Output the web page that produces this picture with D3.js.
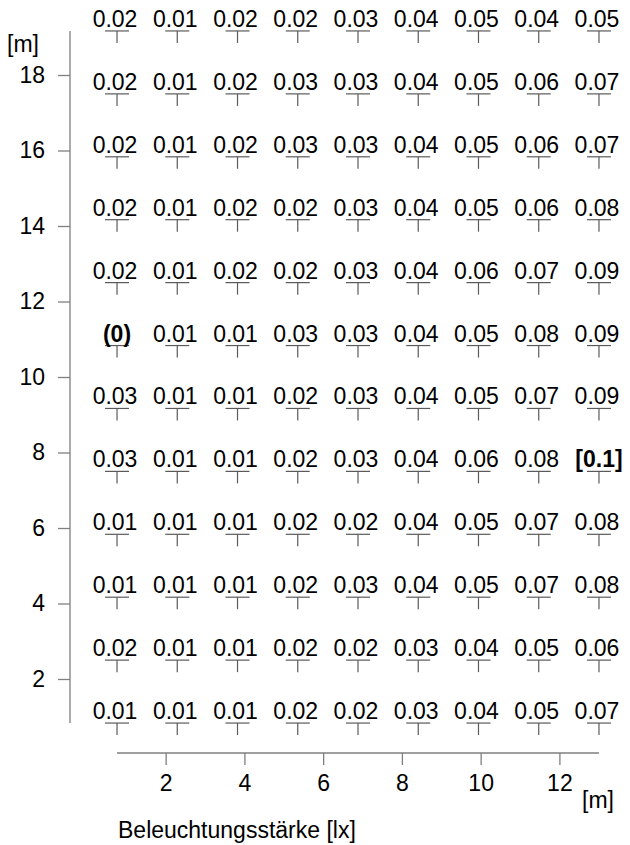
<!DOCTYPE html>
<html><head><meta charset="utf-8">
<script src="https://cdn.jsdelivr.net/npm/d3@7/dist/d3.min.js"></script>
<style>
html,body{margin:0;padding:0;background:#fff;}
svg{display:block;font-family:"Liberation Sans",Arial,Helvetica,sans-serif;}
</style></head>
<body>
<svg id="chart" width="630" height="845"></svg>
<script>
// Grid point coordinates [m]
const colX = [0.765, 2.295, 3.825, 5.355, 6.885, 8.415, 9.945, 11.475, 13.005];
const rowY = [19.167, 17.5, 15.833, 14.167, 12.5, 10.833, 9.167, 7.5, 5.833, 4.167, 2.5, 0.833];
// Illuminance values [lx], rows from top to bottom
const row01 = [0.02, 0.01, 0.02, 0.02, 0.03, 0.04, 0.05, 0.04, 0.05];
const row02 = [0.02, 0.01, 0.02, 0.03, 0.03, 0.04, 0.05, 0.06, 0.07];
const row03 = [0.02, 0.01, 0.02, 0.03, 0.03, 0.04, 0.05, 0.06, 0.07];
const row04 = [0.02, 0.01, 0.02, 0.02, 0.03, 0.04, 0.05, 0.06, 0.08];
const row05 = [0.02, 0.01, 0.02, 0.02, 0.03, 0.04, 0.06, 0.07, 0.09];
const row06 = [0.00, 0.01, 0.01, 0.03, 0.03, 0.04, 0.05, 0.08, 0.09];
const row07 = [0.03, 0.01, 0.01, 0.02, 0.03, 0.04, 0.05, 0.07, 0.09];
const row08 = [0.03, 0.01, 0.01, 0.02, 0.03, 0.04, 0.06, 0.08, 0.10];
const row09 = [0.01, 0.01, 0.01, 0.02, 0.02, 0.04, 0.05, 0.07, 0.08];
const row10 = [0.01, 0.01, 0.01, 0.02, 0.03, 0.04, 0.05, 0.07, 0.08];
const row11 = [0.02, 0.01, 0.01, 0.02, 0.02, 0.03, 0.04, 0.05, 0.06];
const row12 = [0.01, 0.01, 0.01, 0.02, 0.02, 0.03, 0.04, 0.05, 0.07];
const rows = [row01,row02,row03,row04,row05,row06,row07,row08,row09,row10,row11,row12];
const xTicks = [2, 4, 6, 8, 10, 12];
const yTicks = [2, 4, 6, 8, 10, 12, 14, 16, 18];
const xTitle = "Beleuchtungsstärke [lx]";
const unitLabel = "[m]";

const svg = d3.select("#chart");
const x = d3.scaleLinear().domain([0, 13.77]).range([86.9, 629.1]);
const y = d3.scaleLinear().domain([0, 20]).range([754.5, -0.5]);

const axisColor = "#7f7f7f";
const markColor = "#5a5a5a";
const FONT = "Liberation Sans, Arial, sans-serif";

// points
const pts = [];
rows.forEach((r, i) => r.forEach((v, j) => pts.push({x: colX[j], y: rowY[i], v})));
const vmin = d3.min(pts, d => d.v), vmax = d3.max(pts, d => d.v);
const minPt = pts.find(d => d.v === vmin), maxPt = pts.find(d => d.v === vmax);
const fmt = d3.format(".2f");

// y axis
const yAxisX = 70;
svg.append("line").attr("x1", yAxisX).attr("x2", yAxisX)
  .attr("y1", y(d3.max(rowY))).attr("y2", y(d3.min(rowY)))
  .attr("stroke", axisColor).attr("stroke-width", 1.3);
const ya = svg.append("g").attr("transform", `translate(${yAxisX},0)`)
  .call(d3.axisLeft(y).tickValues(yTicks).tickSize(12).tickPadding(13).tickSizeOuter(0));
ya.select(".domain").remove();
ya.selectAll(".tick line").attr("stroke", axisColor).attr("stroke-width", 1.3);
ya.selectAll(".tick text").attr("font-size", 23).attr("fill", "#000").attr("font-family", FONT);

// x axis
const xAxisY = 753;
svg.append("line").attr("y1", xAxisY).attr("y2", xAxisY)
  .attr("x1", x(d3.min(colX))).attr("x2", x(d3.max(colX)))
  .attr("stroke", axisColor).attr("stroke-width", 1.3);
const xa = svg.append("g").attr("transform", `translate(0,${xAxisY})`)
  .call(d3.axisBottom(x).tickValues(xTicks).tickSize(12).tickPadding(10).tickSizeOuter(0));
xa.select(".domain").remove();
xa.selectAll(".tick line").attr("stroke", axisColor).attr("stroke-width", 1.3);
xa.selectAll(".tick text").attr("font-size", 23).attr("fill", "#000").attr("font-family", FONT);

// units & title
svg.append("text").attr("x", 7).attr("y", 52).attr("font-size", 23).text(unitLabel);
svg.append("text").attr("x", 582).attr("y", 808).attr("font-size", 23).text(unitLabel);
svg.append("text").attr("x", 118).attr("y", 838).attr("font-size", 23).text(xTitle);

// markers
const g = svg.append("g");
g.selectAll("line.h").data(pts).join("line").attr("class", "h")
  .attr("x1", d => x(d.x) - 12).attr("x2", d => x(d.x) + 12)
  .attr("y1", d => y(d.y)).attr("y2", d => y(d.y))
  .attr("stroke", markColor).attr("stroke-width", 1.2);
g.selectAll("line.v").data(pts).join("line").attr("class", "v")
  .attr("x1", d => x(d.x)).attr("x2", d => x(d.x))
  .attr("y1", d => y(d.y)).attr("y2", d => y(d.y) + 12)
  .attr("stroke", markColor).attr("stroke-width", 1.2);
g.selectAll("text").data(pts).join("text")
  .attr("x", d => x(d.x) + ((d === minPt || d === maxPt) ? 0 : -2))
  .attr("y", d => y(d.y) - 4)
  .attr("text-anchor", "middle")
  .attr("font-size", 23)
  .attr("font-weight", d => (d === minPt || d === maxPt) ? "bold" : "normal")
  .text(d => d === minPt ? `(${+d.v})` : d === maxPt ? `[${+d.v}]` : fmt(d.v));
</script>
</body></html>
